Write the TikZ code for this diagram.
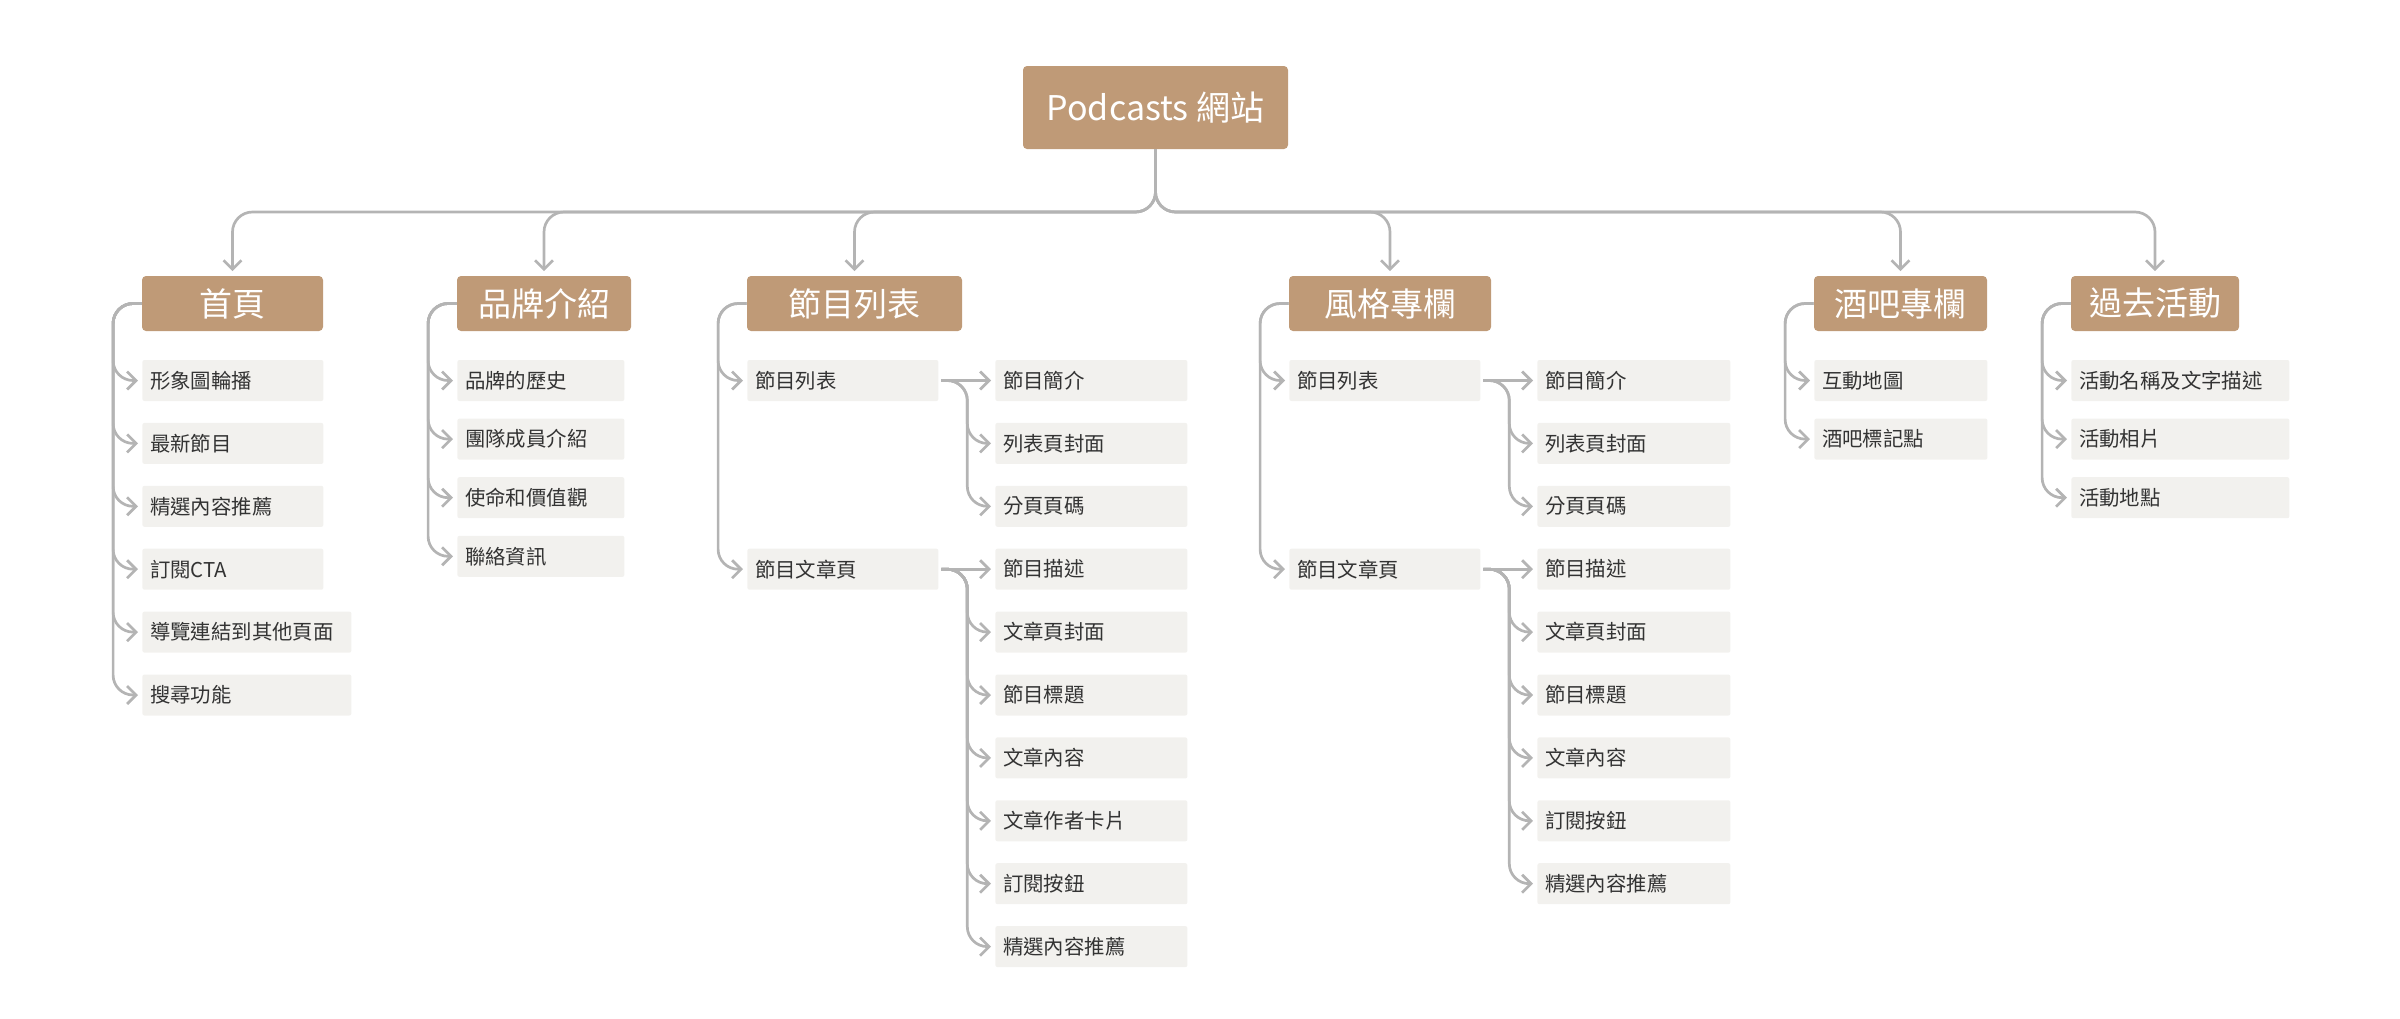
\documentclass[tikz,border=0pt]{standalone}
\usepackage{fontspec}
\setmainfont{Noto Sans CJK TC}
\usetikzlibrary{arrows.meta,calc}
\definecolor{headbrown}{HTML}{BF9A77}
\definecolor{itemgray}{HTML}{F2F1EE}
\definecolor{linegray}{HTML}{B4B4B4}
\definecolor{textgray}{HTML}{333333}

\begin{document}
\begin{tikzpicture}[x=0.5pt, y=-0.5pt,
    root/.style={fill=headbrown, text=white, rounded corners=2pt, font=\fontsize{17}{20}\selectfont, minimum width=132.5pt, minimum height=41.5pt, inner sep=0pt},
    head/.style={fill=headbrown, text=white, rounded corners=2pt, font=\fontsize{16.5}{20}\selectfont, minimum height=27.5pt, inner sep=0pt},
    item/.style={fill=itemgray, text=textgray, rounded corners=1pt, font=\fontsize{10.2}{12}\selectfont, anchor=west, align=left, inner xsep=3.8pt, inner ysep=0pt, minimum height=20.5pt, text width=#1},
    conn/.style={draw=linegray, line width=1.35pt, rounded corners=10pt, -{Straight Barb[length=4.5pt,width=9pt]}, shorten >=2pt}]
            \useasboundingbox (0,0) rectangle (2400,1018);

            % Root of the site map
            \node[root] (site) at (1155.5,107.5) {Podcasts 網站};
            \coordinate (bus) at (1155.5,212);

            % Main sections
            \node[head, minimum width=90.5pt] (home) at (232.5,303.5) {首頁};
            \node[head, minimum width=87pt] (brand) at (544,303.5) {品牌介紹};
            \node[head, minimum width=107.5pt] (eplist) at (854.5,303.5) {節目列表};
            \node[head, minimum width=101pt] (style) at (1390,303.5) {風格專欄};
            \node[head, minimum width=86.5pt] (bar) at (1900.5,303.5) {酒吧專欄};
            \node[head, minimum width=84pt] (events) at (2155,303.5) {過去活動};

            % Bus from the root down to each section
            \draw[conn, shorten >=2.2pt] (site.south) -- (bus) -| (home.north);
            \draw[conn, shorten >=2.2pt] (site.south) -- (bus) -| (brand.north);
            \draw[conn, shorten >=2.2pt] (site.south) -- (bus) -| (eplist.north);
            \draw[conn, shorten >=2.2pt] (site.south) -- (bus) -| (style.north);
            \draw[conn, shorten >=2.2pt] (site.south) -- (bus) -| (bar.north);
            \draw[conn, shorten >=2.2pt] (site.south) -- (bus) -| (events.north);

            % Home page items
            \node[item=82.9pt] (home1) at (142,380.5) {形象圖輪播};
            \node[item=82.9pt] (home2) at (142,443.4) {最新節目};
            \node[item=82.9pt] (home3) at (142,506.3) {精選內容推薦};
            \node[item=82.9pt] (home4) at (142,569.2) {訂閱CTA};
            \node[item=96.9pt] (home5) at (142,632.1) {導覽連結到其他頁面};
            \node[item=96.9pt] (home6) at (142,695.0) {搜尋功能};
            \draw[conn] (home.west) -- ++(-28.5,0) |- (home1.west);
            \draw[conn] (home.west) -- ++(-28.5,0) |- (home2.west);
            \draw[conn] (home.west) -- ++(-28.5,0) |- (home3.west);
            \draw[conn] (home.west) -- ++(-28.5,0) |- (home4.west);
            \draw[conn] (home.west) -- ++(-28.5,0) |- (home5.west);
            \draw[conn] (home.west) -- ++(-28.5,0) |- (home6.west);

            % Brand items
            \node[item=75.9pt] (brand1) at (457,380.5) {品牌的歷史};
            \node[item=75.9pt] (brand2) at (457,439.1) {團隊成員介紹};
            \node[item=75.9pt] (brand3) at (457,497.7) {使命和價值觀};
            \node[item=75.9pt] (brand4) at (457,556.3) {聯絡資訊};
            \draw[conn] (brand.west) -- ++(-28.5,0) |- (brand1.west);
            \draw[conn] (brand.west) -- ++(-28.5,0) |- (brand2.west);
            \draw[conn] (brand.west) -- ++(-28.5,0) |- (brand3.west);
            \draw[conn] (brand.west) -- ++(-28.5,0) |- (brand4.west);

            % Episode list pages
            \node[item=87.9pt] (ep1) at (747,380.5) {節目列表};
            \node[item=87.9pt] (ep2) at (747,569.2) {節目文章頁};
            \draw[conn] (eplist.west) -- ++(-28.5,0) |- (ep1.west);
            \draw[conn] (eplist.west) -- ++(-28.5,0) |- (ep2.west);

            \node[item=88.4pt] (ep1a) at (995,380.5) {節目簡介};
            \node[item=88.4pt] (ep1b) at (995,443.4) {列表頁封面};
            \node[item=88.4pt] (ep1c) at (995,506.3) {分頁頁碼};
            \draw[conn, shorten <=1.3pt] (ep1.east) -- (ep1a.west);
            \draw[conn, shorten <=1.3pt] (ep1.east) -- ++(28.5,0) |- (ep1b.west);
            \draw[conn, shorten <=1.3pt] (ep1.east) -- ++(28.5,0) |- (ep1c.west);

            \node[item=88.4pt] (ep2a) at (995,569.2) {節目描述};
            \node[item=88.4pt] (ep2b) at (995,632.1) {文章頁封面};
            \node[item=88.4pt] (ep2c) at (995,695.0) {節目標題};
            \node[item=88.4pt] (ep2d) at (995,757.9) {文章內容};
            \node[item=88.4pt] (ep2e) at (995,820.8) {文章作者卡片};
            \node[item=88.4pt] (ep2f) at (995,883.7) {訂閱按鈕};
            \node[item=88.4pt] (ep2g) at (995,946.6) {精選內容推薦};
            \draw[conn, shorten <=1.3pt] (ep2.east) -- (ep2a.west);
            \draw[conn, shorten <=1.3pt] (ep2.east) -- ++(28.5,0) |- (ep2b.west);
            \draw[conn, shorten <=1.3pt] (ep2.east) -- ++(28.5,0) |- (ep2c.west);
            \draw[conn, shorten <=1.3pt] (ep2.east) -- ++(28.5,0) |- (ep2d.west);
            \draw[conn, shorten <=1.3pt] (ep2.east) -- ++(28.5,0) |- (ep2e.west);
            \draw[conn, shorten <=1.3pt] (ep2.east) -- ++(28.5,0) |- (ep2f.west);
            \draw[conn, shorten <=1.3pt] (ep2.east) -- ++(28.5,0) |- (ep2g.west);

            % Style column pages
            \node[item=87.9pt] (sty1) at (1289,380.5) {節目列表};
            \node[item=87.9pt] (sty2) at (1289,569.2) {節目文章頁};
            \draw[conn] (style.west) -- ++(-28.5,0) |- (sty1.west);
            \draw[conn] (style.west) -- ++(-28.5,0) |- (sty2.west);

            \node[item=88.9pt] (sty1a) at (1537,380.5) {節目簡介};
            \node[item=88.9pt] (sty1b) at (1537,443.4) {列表頁封面};
            \node[item=88.9pt] (sty1c) at (1537,506.3) {分頁頁碼};
            \draw[conn, shorten <=1.3pt] (sty1.east) -- (sty1a.west);
            \draw[conn, shorten <=1.3pt] (sty1.east) -- ++(28.5,0) |- (sty1b.west);
            \draw[conn, shorten <=1.3pt] (sty1.east) -- ++(28.5,0) |- (sty1c.west);

            \node[item=88.9pt] (sty2a) at (1537,569.2) {節目描述};
            \node[item=88.9pt] (sty2b) at (1537,632.1) {文章頁封面};
            \node[item=88.9pt] (sty2c) at (1537,695.0) {節目標題};
            \node[item=88.9pt] (sty2d) at (1537,757.9) {文章內容};
            \node[item=88.9pt] (sty2e) at (1537,820.8) {訂閱按鈕};
            \node[item=88.9pt] (sty2f) at (1537,883.7) {精選內容推薦};
            \draw[conn, shorten <=1.3pt] (sty2.east) -- (sty2a.west);
            \draw[conn, shorten <=1.3pt] (sty2.east) -- ++(28.5,0) |- (sty2b.west);
            \draw[conn, shorten <=1.3pt] (sty2.east) -- ++(28.5,0) |- (sty2c.west);
            \draw[conn, shorten <=1.3pt] (sty2.east) -- ++(28.5,0) |- (sty2d.west);
            \draw[conn, shorten <=1.3pt] (sty2.east) -- ++(28.5,0) |- (sty2e.west);
            \draw[conn, shorten <=1.3pt] (sty2.east) -- ++(28.5,0) |- (sty2f.west);

            % Bar column items
            \node[item=78.9pt] (bar1) at (1814,380.5) {互動地圖};
            \node[item=78.9pt] (bar2) at (1814,439.1) {酒吧標記點};
            \draw[conn] (bar.west) -- ++(-28.5,0) |- (bar1.west);
            \draw[conn] (bar.west) -- ++(-28.5,0) |- (bar2.west);

            % Past events items
            \node[item=101.4pt] (evt1) at (2071,380.5) {活動名稱及文字描述};
            \node[item=101.4pt] (evt2) at (2071,439.1) {活動相片};
            \node[item=101.4pt] (evt3) at (2071,497.7) {活動地點};
            \draw[conn] (events.west) -- ++(-28.5,0) |- (evt1.west);
            \draw[conn] (events.west) -- ++(-28.5,0) |- (evt2.west);
            \draw[conn] (events.west) -- ++(-28.5,0) |- (evt3.west);
        \end{tikzpicture}
\end{document}
